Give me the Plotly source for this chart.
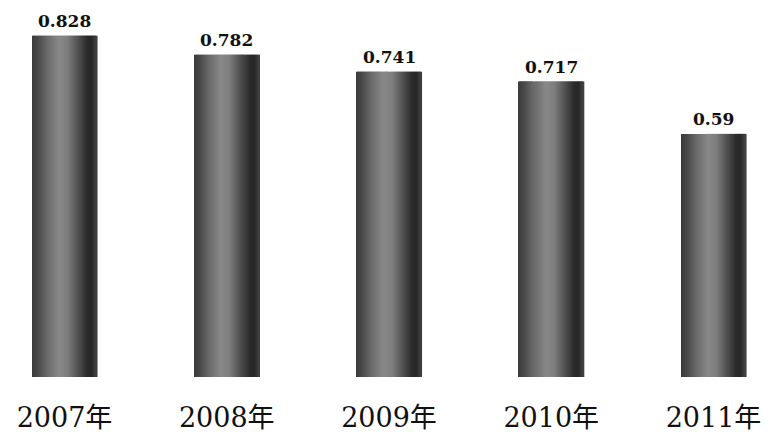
import plotly.graph_objects as go

categories = ["2007年", "2008年", "2009年", "2010年", "2011年"]
values = [0.828, 0.782, 0.741, 0.717, 0.59]
value_labels = ["0.828", "0.782", "0.741", "0.717", "0.59"]

# cylinder shading profile (position across bar, grey level)
stops = [(0.0, 58), (0.08, 70), (0.25, 108), (0.42, 136), (0.55, 126),
         (0.72, 80), (0.86, 42), (0.93, 40), (1.0, 66)]

def grey(t):
    for (t0, g0), (t1, g1) in zip(stops[:-1], stops[1:]):
        if t0 <= t <= t1:
            g = g0 + (g1 - g0) * (t - t0) / (t1 - t0)
            g = int(round(g))
            return f"rgb({g},{g},{g})"
    return "rgb(60,60,60)"

bar_w = 0.40
n = 64
sw = bar_w / n
fig = go.Figure()
for i in range(n):
    t = (i + 0.5) / n
    fig.add_trace(go.Bar(
        x=list(range(len(categories))), y=values,
        width=sw * 1.6, offset=-bar_w / 2 + i * sw,
        marker=dict(color=grey(t), line=dict(width=0)),
        hoverinfo="skip", showlegend=False,
    ))

for i, (v, lab) in enumerate(zip(values, value_labels)):
    fig.add_annotation(x=i, y=v, text=lab, showarrow=False, yanchor="bottom",
                       yshift=3, font=dict(family="DejaVu Serif", size=17, color="#111111"))

fig.update_layout(
    barmode="overlay",
    width=763, height=424,
    margin=dict(l=0, r=0, t=0, b=55),
    paper_bgcolor="white", plot_bgcolor="white",
    xaxis=dict(range=[-0.3482, 4.3544], tickmode="array",
               tickvals=list(range(len(categories))), ticktext=categories,
               showgrid=False, zeroline=False, showline=False, ticks="",
               ticklabelstandoff=22,
               tickfont=dict(family="DejaVu Serif, Noto Sans CJK SC", size=27, color="#111111")),
    yaxis=dict(range=[0, 369 / 412], visible=False, showgrid=False, zeroline=False),
)
fig.update_annotations(font_weight="bold")

fig.write_html("out.html")
